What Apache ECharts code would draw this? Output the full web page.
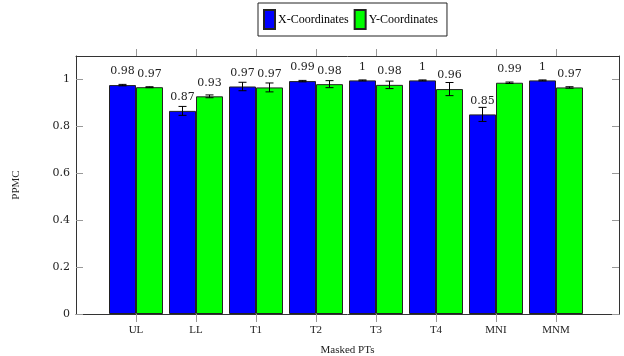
<!DOCTYPE html>
<html>
<head>
<meta charset="utf-8">
<script src="https://cdn.jsdelivr.net/npm/echarts@6/dist/echarts.min.js"></script>
<style>html,body{margin:0;padding:0;background:#fff;}#c{width:624px;height:356px;}</style>
</head>
<body>
<div id="c"></div>
<script>
const categories = ['UL', 'LL', 'T1', 'T2', 'T3', 'T4', 'MNI', 'MNM'];
const xCoordValues = [0.976, 0.866, 0.970, 0.993, 0.996, 0.996, 0.851, 0.996];
const yCoordValues = [0.967, 0.928, 0.966, 0.980, 0.977, 0.959, 0.986, 0.966];
const xCoordErrors = [0.003, 0.019, 0.018, 0.003, 0.002, 0.002, 0.030, 0.002];
const yCoordErrors = [0.002, 0.006, 0.019, 0.015, 0.016, 0.028, 0.003, 0.003];
const yTickValues = [0, 0.2, 0.4, 0.6, 0.8, 1];
const catIndex = categories.map((c, i) => i);

const BAR_W = 27;
const serif = 'Liberation Serif';
const numFont = 'DejaVu Serif';

function barData(vals) { return vals.map((v, i) => [i, v]); }
function errData(vals, errs) { return vals.map((v, i) => [i, v, errs[i]]); }
function fmtLabel(p) { return String(Number(p.value[1].toFixed(2))); }

function errorRenderer(offset) {
  return function (params, api) {
    const x = api.value(0), v = api.value(1), e = api.value(2);
    const top = api.coord([x, v + e]);
    const bot = api.coord([x, v - e]);
    const cx = top[0] + offset;
    const hw = 4;
    const st = { stroke: '#000', lineWidth: 1 };
    return {
      type: 'group',
      children: [
        { type: 'line', shape: { x1: cx, y1: top[1], x2: cx, y2: bot[1] }, style: st },
        { type: 'line', shape: { x1: cx - hw, y1: top[1], x2: cx + hw, y2: top[1] }, style: st },
        { type: 'line', shape: { x1: cx - hw, y1: bot[1], x2: cx + hw, y2: bot[1] }, style: st }
      ]
    };
  };
}

const chart = echarts.init(document.getElementById('c'), null, { renderer: 'canvas' });
const barLabel = {
  show: true, position: 'top', distance: 8, formatter: fmtLabel,
  fontFamily: numFont, fontSize: 11, color: '#222'
};
chart.setOption({
  animation: false,
  backgroundColor: '#fff',
  grid: { left: 76, right: 5, top: 56, bottom: 42, outerBoundsMode: 'none', containLabel: false },
  legend: {
    left: 258, top: 3,
    padding: [6, 9, 6, 5],
    itemGap: 5,
    itemWidth: 11, itemHeight: 19,
    borderColor: '#222', borderWidth: 1,
    icon: 'rect',
    textStyle: { fontFamily: serif, fontSize: 12, color: '#000', padding: [0, 0, 0, -2] },
    data: ['X-Coordinates', 'Y-Coordinates']
  },
  xAxis: [
    {
      type: 'value', min: -1, max: 8.05, interval: 1, position: 'bottom',
      splitLine: { show: false },
      axisLine: { show: true, onZero: false, lineStyle: { color: '#333', width: 1 } },
      axisTick: { show: true, inside: false, length: 8, customValues: catIndex, lineStyle: { color: '#999', width: 1 } },
      axisLabel: {
        customValues: catIndex, margin: 11,
        formatter: (v) => categories[Math.round(v)] || '',
        fontFamily: serif, fontSize: 11, color: '#222'
      },
      name: 'Masked PTs', nameLocation: 'middle', nameGap: 31,
      nameTextStyle: { fontFamily: serif, fontSize: 11, color: '#222' }
    },
    {
      type: 'value', min: -1, max: 8.05, interval: 1, position: 'top',
      splitLine: { show: false },
      axisLine: { show: true, onZero: false, lineStyle: { color: '#333', width: 1 } },
      axisTick: { show: true, inside: false, length: 7, customValues: catIndex, lineStyle: { color: '#999', width: 1 } },
      axisLabel: { show: false }
    }
  ],
  yAxis: [
    {
      type: 'value', min: 0, max: 1.1, position: 'left',
      splitLine: { show: false },
      axisLine: { show: true, onZero: false, lineStyle: { color: '#333', width: 1 } },
      axisTick: { show: true, inside: true, length: 7, customValues: yTickValues, lineStyle: { color: '#999' } },
      axisLabel: {
        customValues: yTickValues, margin: 6,
        fontFamily: numFont, fontSize: 11, color: '#222'
      },
      name: 'PPMC', nameLocation: 'middle', nameGap: 54,
      nameTextStyle: { fontFamily: serif, fontSize: 11, color: '#222' }
    },
    {
      type: 'value', min: 0, max: 1.1, position: 'right',
      splitLine: { show: false },
      axisLine: { show: true, onZero: false, lineStyle: { color: '#333', width: 1 } },
      axisTick: { show: true, inside: true, length: 7, customValues: yTickValues, lineStyle: { color: '#999' } },
      axisLabel: { show: false }
    }
  ],
  series: [
    {
      name: 'X-Coordinates', type: 'bar', xAxisIndex: 0, yAxisIndex: 0,
      barWidth: BAR_W, barGap: '0%',
      itemStyle: { color: '#0000ff', borderColor: '#222', borderWidth: 1 },
      label: barLabel,
      data: barData(xCoordValues), z: 2
    },
    {
      name: 'Y-Coordinates', type: 'bar', xAxisIndex: 0, yAxisIndex: 0,
      barWidth: BAR_W, barGap: '0%',
      itemStyle: { color: '#00ff00', borderColor: '#222', borderWidth: 1 },
      label: barLabel,
      data: barData(yCoordValues), z: 2
    },
    {
      type: 'custom', xAxisIndex: 0, yAxisIndex: 0, z: 5,
      renderItem: errorRenderer(-BAR_W / 2),
      data: errData(xCoordValues, xCoordErrors), silent: true
    },
    {
      type: 'custom', xAxisIndex: 0, yAxisIndex: 0, z: 5,
      renderItem: errorRenderer(BAR_W / 2),
      data: errData(yCoordValues, yCoordErrors), silent: true
    }
  ]
});
</script>
</body>
</html>
